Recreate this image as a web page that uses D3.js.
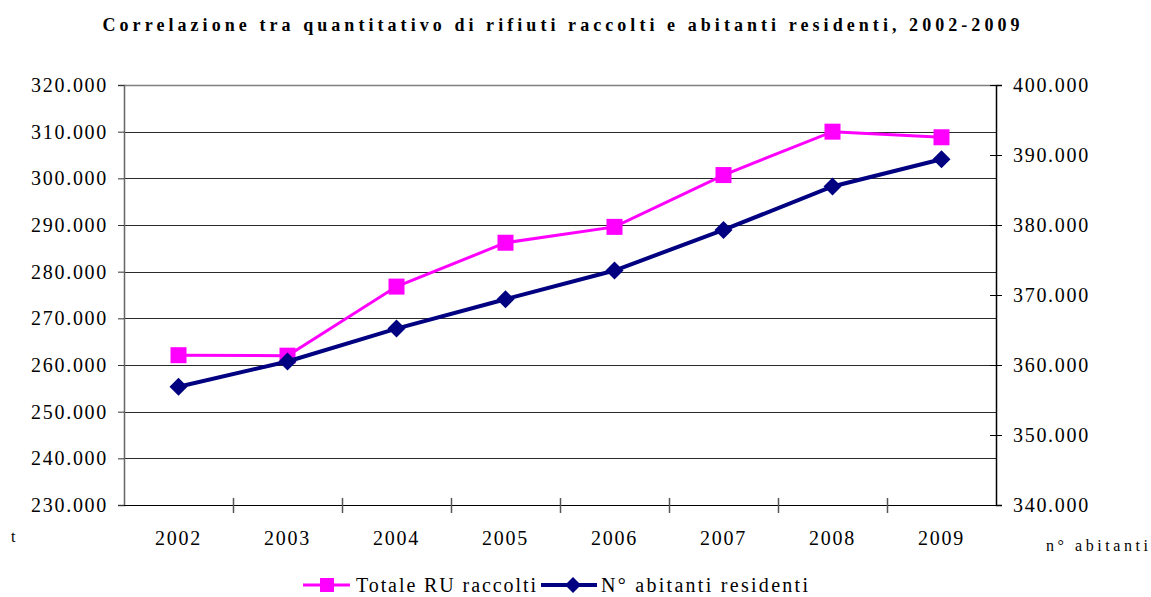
<!DOCTYPE html>
<html>
<head>
<meta charset="utf-8">
<script src="https://cdn.jsdelivr.net/npm/d3@7"></script>
<style>
  body { margin: 0; background: #fff; }
  svg text { font-family: "Liberation Serif", "Times New Roman", serif; fill: #000; }
</style>
</head>
<body>
<div id="chart"></div>
<script>
// data
var years = ["2002", "2003", "2004", "2005", "2006", "2007", "2008", "2009"];
var rifiuti = [262100, 262000, 276800, 286200, 289600, 300700, 310000, 308800];
var abitanti = [356900, 360500, 365200, 369400, 373500, 379300, 385500, 389400];
var leftTicks = [230000, 240000, 250000, 260000, 270000, 280000, 290000, 300000, 310000, 320000];
var rightTicks = [340000, 350000, 360000, 370000, 380000, 390000, 400000];
var seriesNames = ["Totale RU raccolti", "N° abitanti residenti"];

(function () {
  var W = 1151, H = 597;
  var mLeft = 124, mRight = 996, mTop = 85, mBottom = 505;

  var it = d3.formatLocale({ decimal: ",", thousands: ".", grouping: [3], currency: ["€", ""] });
  var fmt = it.format(",");

  var svg = d3.select("#chart").append("svg")
    .attr("width", W)
    .attr("height", H);

  var x = d3.scaleBand().domain(years).range([mLeft, mRight]).padding(0);
  var yL = d3.scaleLinear().domain([230000, 320000]).range([mBottom, mTop]);
  var yR = d3.scaleLinear().domain([340000, 400000]).range([mBottom, mTop]);
  var cx = function (d) { return x(d) + x.bandwidth() / 2; };

  /********* title *********/
  svg.append("text")
    .attr("x", 561)
    .attr("y", 31)
    .attr("text-anchor", "middle")
    .attr("textLength", 917)
    .attr("lengthAdjust", "spacing")
    .style("font-size", "18px")
    .style("font-weight", "bold")
    .text("Correlazione tra quantitativo di rifiuti raccolti e abitanti residenti, 2002-2009");

  /********* gridlines *********/
  svg.append("g").selectAll("line")
    .data(leftTicks.filter(function (d) { return d > 230000; }))
    .enter().append("line")
    .attr("x1", mLeft).attr("x2", mRight)
    .attr("y1", function (d) { return Math.round(yL(d)) + 0.5; })
    .attr("y2", function (d) { return Math.round(yL(d)) + 0.5; })
    .attr("stroke", function (d) { return d == 320000 ? "#808080" : "#2a2a2a"; })
    .attr("stroke-width", function (d) { return d == 320000 ? 1.5 : 1; });

  /********* left axis *********/
  var gL = svg.append("g")
    .attr("transform", "translate(" + mLeft + ",0)")
    .call(d3.axisLeft(yL).tickValues(leftTicks).tickFormat(fmt).tickSize(6).tickPadding(10));
  gL.select(".domain").attr("stroke", "#666").attr("stroke-width", 1.5);
  gL.selectAll(".tick line").attr("stroke", "#333");
  gL.selectAll("text")
    .style("font-size", "20px")
    .style("letter-spacing", "1.7px")
    .attr("fill", "#000");

  /********* right axis *********/
  var gR = svg.append("g")
    .attr("transform", "translate(" + mRight + ",0)")
    .call(d3.axisRight(yR).tickValues(rightTicks).tickFormat(fmt).tickSize(6).tickPadding(11));
  gR.select(".domain").attr("stroke", "#000").attr("stroke-width", 1.5);
  gR.selectAll(".tick line").attr("x1", -6).attr("stroke", "#000");
  gR.selectAll("text")
    .style("font-size", "20px")
    .style("letter-spacing", "1.7px")
    .attr("fill", "#000");

  /********* x axis *********/
  svg.append("line")
    .attr("x1", mLeft).attr("x2", mRight)
    .attr("y1", mBottom + 0.5).attr("y2", mBottom + 0.5)
    .attr("stroke", "#000");
  var edges = years.map(function (d) { return x(d); }).concat([mRight]);
  svg.append("g").selectAll("line")
    .data(edges.slice(1, -1))
    .enter().append("line")
    .attr("x1", function (d) { return Math.round(d) + 0.5; })
    .attr("x2", function (d) { return Math.round(d) + 0.5; })
    .attr("y1", mBottom - 7).attr("y2", mBottom + 8)
    .attr("stroke", "#555")
    .attr("stroke-width", 1.5);
  svg.append("g").selectAll("text")
    .data(years)
    .enter().append("text")
    .attr("x", cx)
    .attr("y", 545)
    .attr("text-anchor", "middle")
    .style("font-size", "20px")
    .style("letter-spacing", "1.7px")
    .text(function (d) { return d; });

  /********* axis units *********/
  svg.append("text")
    .attr("x", 11).attr("y", 542)
    .style("font-size", "16px")
    .text("t");
  svg.append("text")
    .attr("x", 1046).attr("y", 551)
    .attr("textLength", 102)
    .attr("lengthAdjust", "spacing")
    .style("font-size", "16px")
    .text("n° abitanti");

  /********* lines *********/
  var lineL = d3.line()
    .x(function (d, i) { return cx(years[i]); })
    .y(function (d) { return yL(d); });
  var lineR = d3.line()
    .x(function (d, i) { return cx(years[i]); })
    .y(function (d) { return yR(d); });

  svg.append("path")
    .datum(rifiuti)
    .attr("d", lineL)
    .attr("fill", "none")
    .attr("stroke", "#ff00ff")
    .attr("stroke-width", 3);
  svg.append("g").selectAll("rect")
    .data(rifiuti)
    .enter().append("rect")
    .attr("x", function (d, i) { return cx(years[i]) - 8; })
    .attr("y", function (d) { return yL(d) - 8; })
    .attr("width", 16).attr("height", 16)
    .attr("fill", "#ff00ff");

  svg.append("path")
    .datum(abitanti)
    .attr("d", lineR)
    .attr("fill", "none")
    .attr("stroke", "#000080")
    .attr("stroke-width", 4);
  var diamond = "M0,-9L9,0L0,9L-9,0Z";
  svg.append("g").selectAll("path")
    .data(abitanti)
    .enter().append("path")
    .attr("d", diamond)
    .attr("transform", function (d, i) { return "translate(" + cx(years[i]) + "," + yR(d) + ")"; })
    .attr("fill", "#000080");

  /********* legend *********/
  var lg = svg.append("g");
  lg.append("line").attr("x1", 303).attr("x2", 350).attr("y1", 585).attr("y2", 585)
    .attr("stroke", "#ff00ff").attr("stroke-width", 3);
  lg.append("rect").attr("x", 320).attr("y", 578).attr("width", 14).attr("height", 14)
    .attr("fill", "#ff00ff");
  lg.append("text").attr("x", 356).attr("y", 592)
    .attr("textLength", 180).attr("lengthAdjust", "spacing")
    .style("font-size", "20px")
    .text(seriesNames[0]);
  lg.append("line").attr("x1", 541).attr("x2", 597).attr("y1", 585).attr("y2", 585)
    .attr("stroke", "#000080").attr("stroke-width", 4);
  lg.append("path").attr("d", "M0,-8L8,0L0,8L-8,0Z")
    .attr("transform", "translate(573,585)")
    .attr("fill", "#000080");
  lg.append("text").attr("x", 601).attr("y", 592)
    .attr("textLength", 207).attr("lengthAdjust", "spacing")
    .style("font-size", "20px")
    .text(seriesNames[1]);
})();
</script>
</body>
</html>
